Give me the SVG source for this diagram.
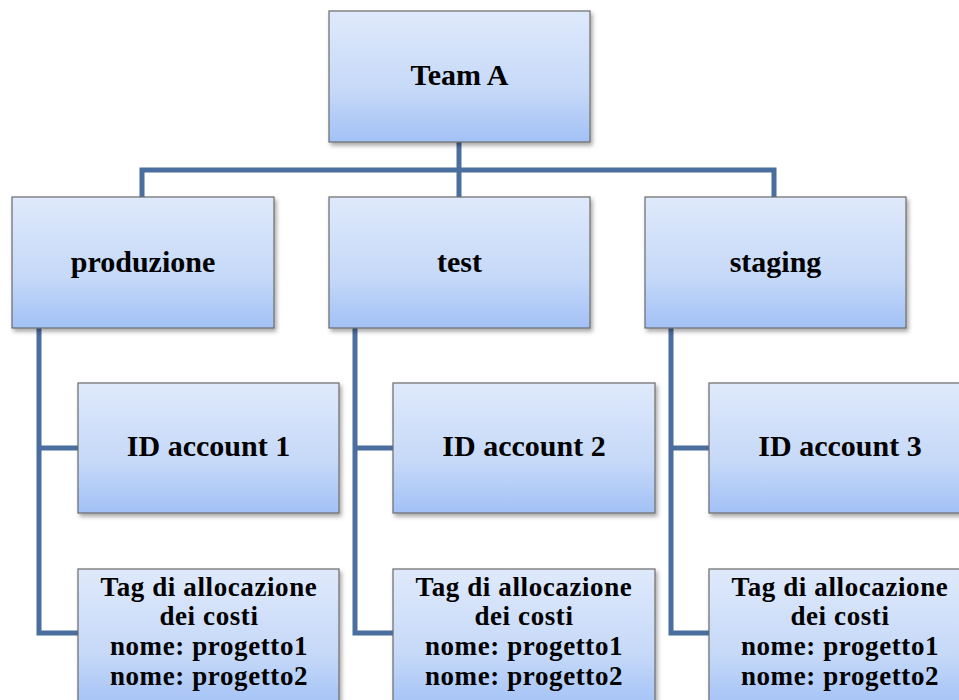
<svg xmlns="http://www.w3.org/2000/svg" width="959" height="700" viewBox="0 0 959 700">
<defs>
<linearGradient id="g" x1="0" y1="0" x2="0" y2="1">
<stop offset="0" stop-color="#dfe9fb"/>
<stop offset="0.6" stop-color="#c6d9f8"/>
<stop offset="1" stop-color="#a2c1f6"/>
</linearGradient>
<filter id="sh" x="-10%" y="-10%" width="125%" height="125%">
<feDropShadow dx="2" dy="3" stdDeviation="2" flood-color="#000" flood-opacity="0.35"/>
</filter>
</defs>
<style>
.box{fill:url(#g);stroke:#6b6b6b;stroke-width:1.2;filter:url(#sh)}
.t{font-family:"Liberation Serif","Times New Roman",serif;font-weight:bold;font-size:30px;fill:#000;text-anchor:middle}
.s{font-size:27px;letter-spacing:0.6px}
.c{fill:none;stroke:#4a6f9f;stroke-width:5;stroke-linejoin:miter}
</style>
<rect width="959" height="700" fill="#fff"/>
<g id="connectors">
<path class="c" d="M459 142 V197"/>
<path class="c" d="M142 197 V170 H774 V197"/>
<path class="c" d="M39 328 V633 H78 M39 448 H78"/>
<path class="c" d="M355 328 V633 H393 M355 448 H393"/>
<path class="c" d="M671 328 V633 H709 M671 448 H709"/>
</g>
<g id="teamA"><rect class="box" x="329" y="11" width="261" height="131"/><text class="t" x="459.5" y="85">Team A</text></g>
<g id="produzione"><rect class="box" x="12" y="197" width="262" height="131"/><text class="t" x="143" y="272">produzione</text></g>
<g id="test"><rect class="box" x="329" y="197" width="261" height="131"/><text class="t" x="459.5" y="272">test</text></g>
<g id="staging"><rect class="box" x="645" y="197" width="261" height="131"/><text class="t" x="775.5" y="272">staging</text></g>
<g id="account1"><rect class="box" x="78" y="383" width="261" height="130"/><text class="t" x="208.5" y="456">ID account 1</text></g>
<g id="account2"><rect class="box" x="393" y="383" width="262" height="130"/><text class="t" x="524" y="456">ID account 2</text></g>
<g id="account3"><rect class="box" x="709" y="383" width="262" height="130"/><text class="t" x="840" y="456">ID account 3</text></g>
<g id="tag1"><rect class="box" x="78" y="569" width="261" height="140"/>
<text class="t s" x="209" y="596">Tag di allocazione</text><text class="t s" x="209" y="625">dei costi</text><text class="t s" x="209" y="655">nome: progetto1</text><text class="t s" x="209" y="685">nome: progetto2</text></g>
<g id="tag2"><rect class="box" x="393" y="569" width="262" height="140"/>
<text class="t s" x="524" y="596">Tag di allocazione</text><text class="t s" x="524" y="625">dei costi</text><text class="t s" x="524" y="655">nome: progetto1</text><text class="t s" x="524" y="685">nome: progetto2</text></g>
<g id="tag3"><rect class="box" x="709" y="569" width="262" height="140"/>
<text class="t s" x="840" y="596">Tag di allocazione</text><text class="t s" x="840" y="625">dei costi</text><text class="t s" x="840" y="655">nome: progetto1</text><text class="t s" x="840" y="685">nome: progetto2</text></g>
</svg>
